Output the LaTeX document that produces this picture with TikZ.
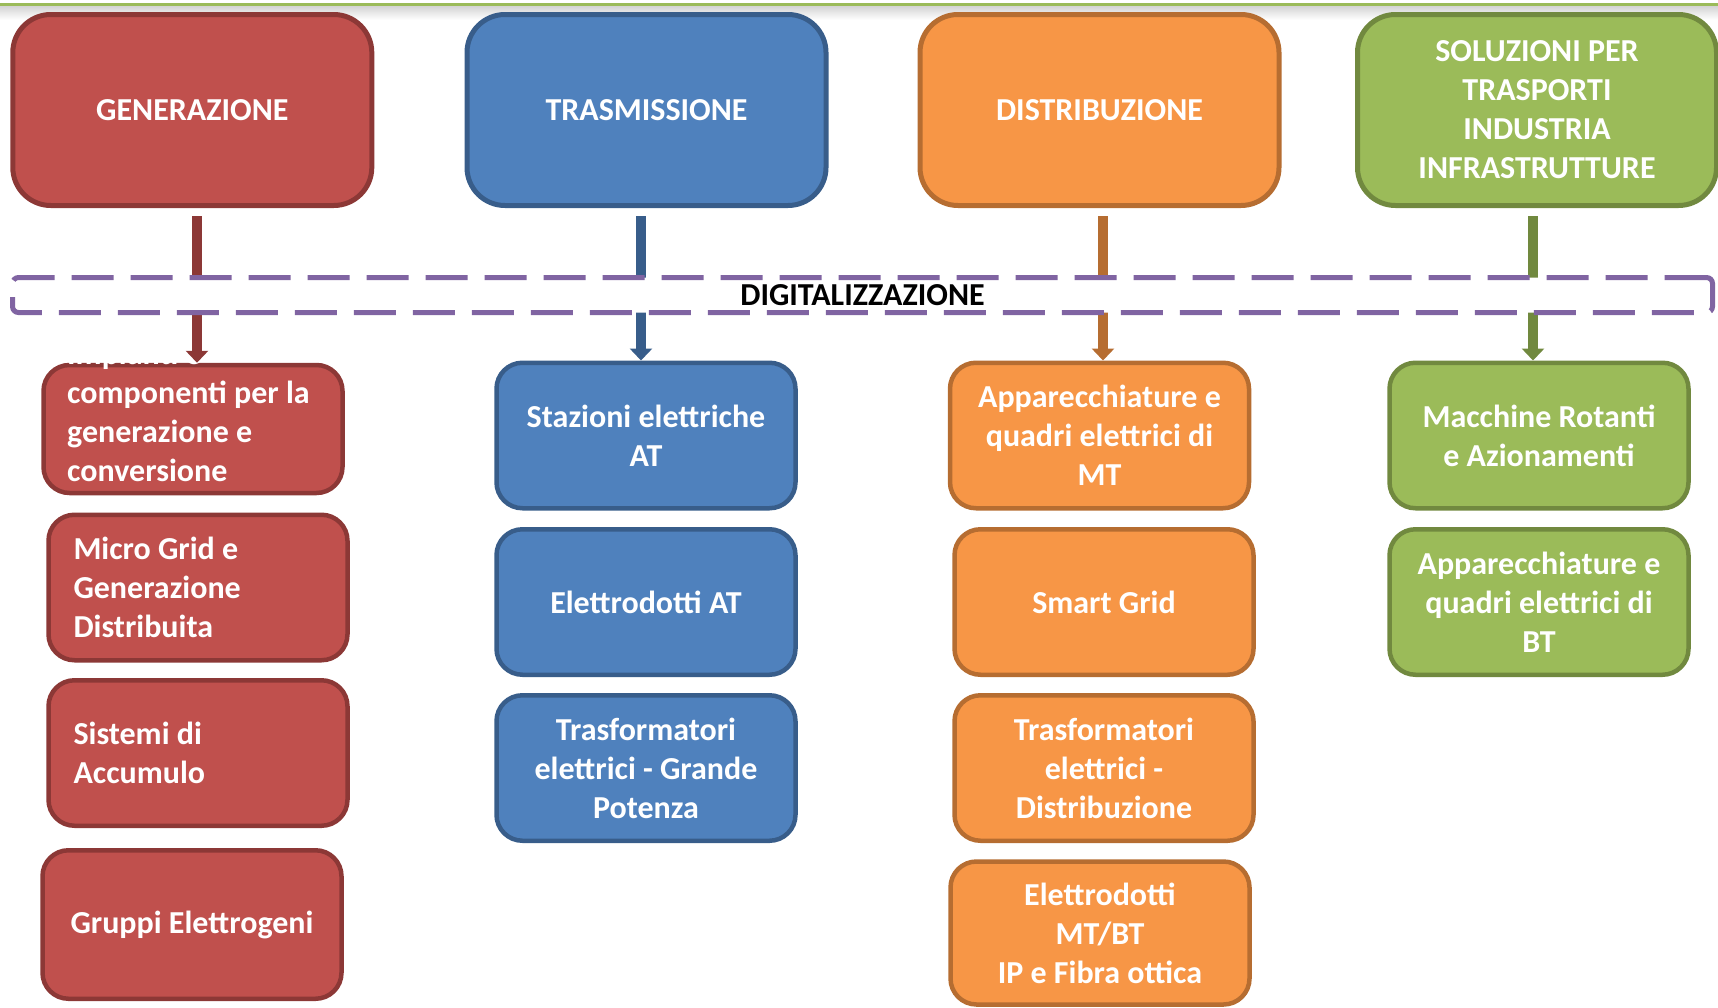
\documentclass[tikz,border=0pt]{standalone}
\usepackage{fontspec}
\setmainfont{Carlito}
\usetikzlibrary{arrows.meta,calc}
\definecolor{redF}{HTML}{C0504D}
\definecolor{redB}{HTML}{8C3836}
\definecolor{bluF}{HTML}{4F81BD}
\definecolor{bluB}{HTML}{385D8A}
\definecolor{orgF}{HTML}{F79646}
\definecolor{orgB}{HTML}{B66D31}
\definecolor{grnF}{HTML}{9BBB59}
\definecolor{grnB}{HTML}{71893F}
\definecolor{purp}{HTML}{8064A2}
\begin{document}
\begin{tikzpicture}[x=1pt,y=-1pt,
  txt/.style={font=\fontsize{32}{39}\selectfont\bfseries, text=white},
  topbox/.style={txt, draw=#1B, fill=#1F, line width=5pt, rounded corners=38pt,
    minimum width=359pt, minimum height=191pt, align=center, inner sep=0pt},
  childbox/.style={txt, draw=#1B, fill=#1F, line width=4.5pt, rounded corners=26pt,
    minimum width=299pt, minimum height=145.5pt, align=center, inner sep=0pt},
  leftbox/.style={childbox=#1, align=flush left, text width=249pt, inner xsep=25pt},
  arr/.style={draw=#1, line width=10pt, shorten <=8pt,
    -{Triangle[width=22pt,length=12pt]}},
  digibox/.style={draw=purp, fill=white, line width=5pt, dash pattern=on 42pt off 17pt,
    rounded corners=6pt, minimum width=1700pt, minimum height=35pt, inner sep=0pt,
    font=\fontsize{32}{39}\selectfont\bfseries, text=black}
]
\useasboundingbox (0,0) rectangle (1718,1007);
% top rule with shadow
\fill[top color=black!18, bottom color=white] (0,5) rectangle (1718,20);
\draw[grnF, line width=3pt] (0,4) -- (1718,4);

% top boxes
\node[topbox=red] (gen) at (192.3,110) {GENERAZIONE};
\node[topbox=blu] (tras) at (646.5,110) {TRASMISSIONE};
\node[topbox=org] (dist) at (1099.5,110) {DISTRIBUZIONE};
\node[topbox=grn] (sol) at (1537,110) {SOLUZIONI PER\\TRASPORTI\\INDUSTRIA\\INFRASTRUTTURE};

% column 1
\node[childbox=red, minimum height=128pt] (g1) at (193,429) {};
\begin{scope}
  \clip (30,360) rectangle (360,496);
  \node[txt, align=flush left, anchor=west, inner sep=0pt] (g1t) at (67,433.5)
    {Impianti e\\componenti per la\\generazione e\\conversione\\dell'energia};
\end{scope}
\node[leftbox=red] (g2) at (198,587.5) {Micro Grid e\\Generazione\\Distribuita};
\node[leftbox=red] (g3) at (198,753) {Sistemi di\\Accumulo};
\node[childbox=red, minimum height=148.5pt] (g4) at (192,924.5) {Gruppi Elettrogeni};

% column 2
\node[childbox=blu] (t1) at (646,435.5) {Stazioni elettriche\\AT};
\node[childbox=blu] (t2) at (646,602) {Elettrodotti AT};
\node[childbox=blu] (t3) at (646,768) {Trasformatori\\elettrici - Grande\\Potenza};

% column 3
\node[childbox=org] (d1) at (1099.5,435.5) {Apparecchiature e\\quadri elettrici di\\MT};
\node[childbox=org] (d2) at (1104,602) {Smart Grid};
\node[childbox=org] (d3) at (1104,768) {Trasformatori\\elettrici -\\Distribuzione};
\node[childbox=org, minimum height=143pt] (d4) at (1100,933) {Elettrodotti\\MT/BT\\IP e Fibra ottica};

% column 4
\node[childbox=grn] (s1) at (1539,435.5) {Macchine Rotanti\\e Azionamenti};
\node[childbox=grn] (s2) at (1539,602) {Apparecchiature e\\quadri elettrici di\\BT};

% arrows
\draw[arr=redB] ([xshift=4.7pt]gen.south) -- ([xshift=4.7pt]gen.south |- g1.north);
\draw[arr=bluB] ([xshift=-5.5pt]tras.south) -- ([xshift=-5.5pt]tras.south |- t1.north);
\draw[arr=orgB] ([xshift=3.5pt]dist.south) -- ([xshift=3.5pt]dist.south |- d1.north);
\draw[arr=grnB] ([xshift=-4pt]sol.south) -- ([xshift=-4pt]sol.south |- s1.north);

% digitalization band
\node[digibox] (digi) at (862.5,295) {DIGITALIZZAZIONE};
\end{tikzpicture}
\end{document}
